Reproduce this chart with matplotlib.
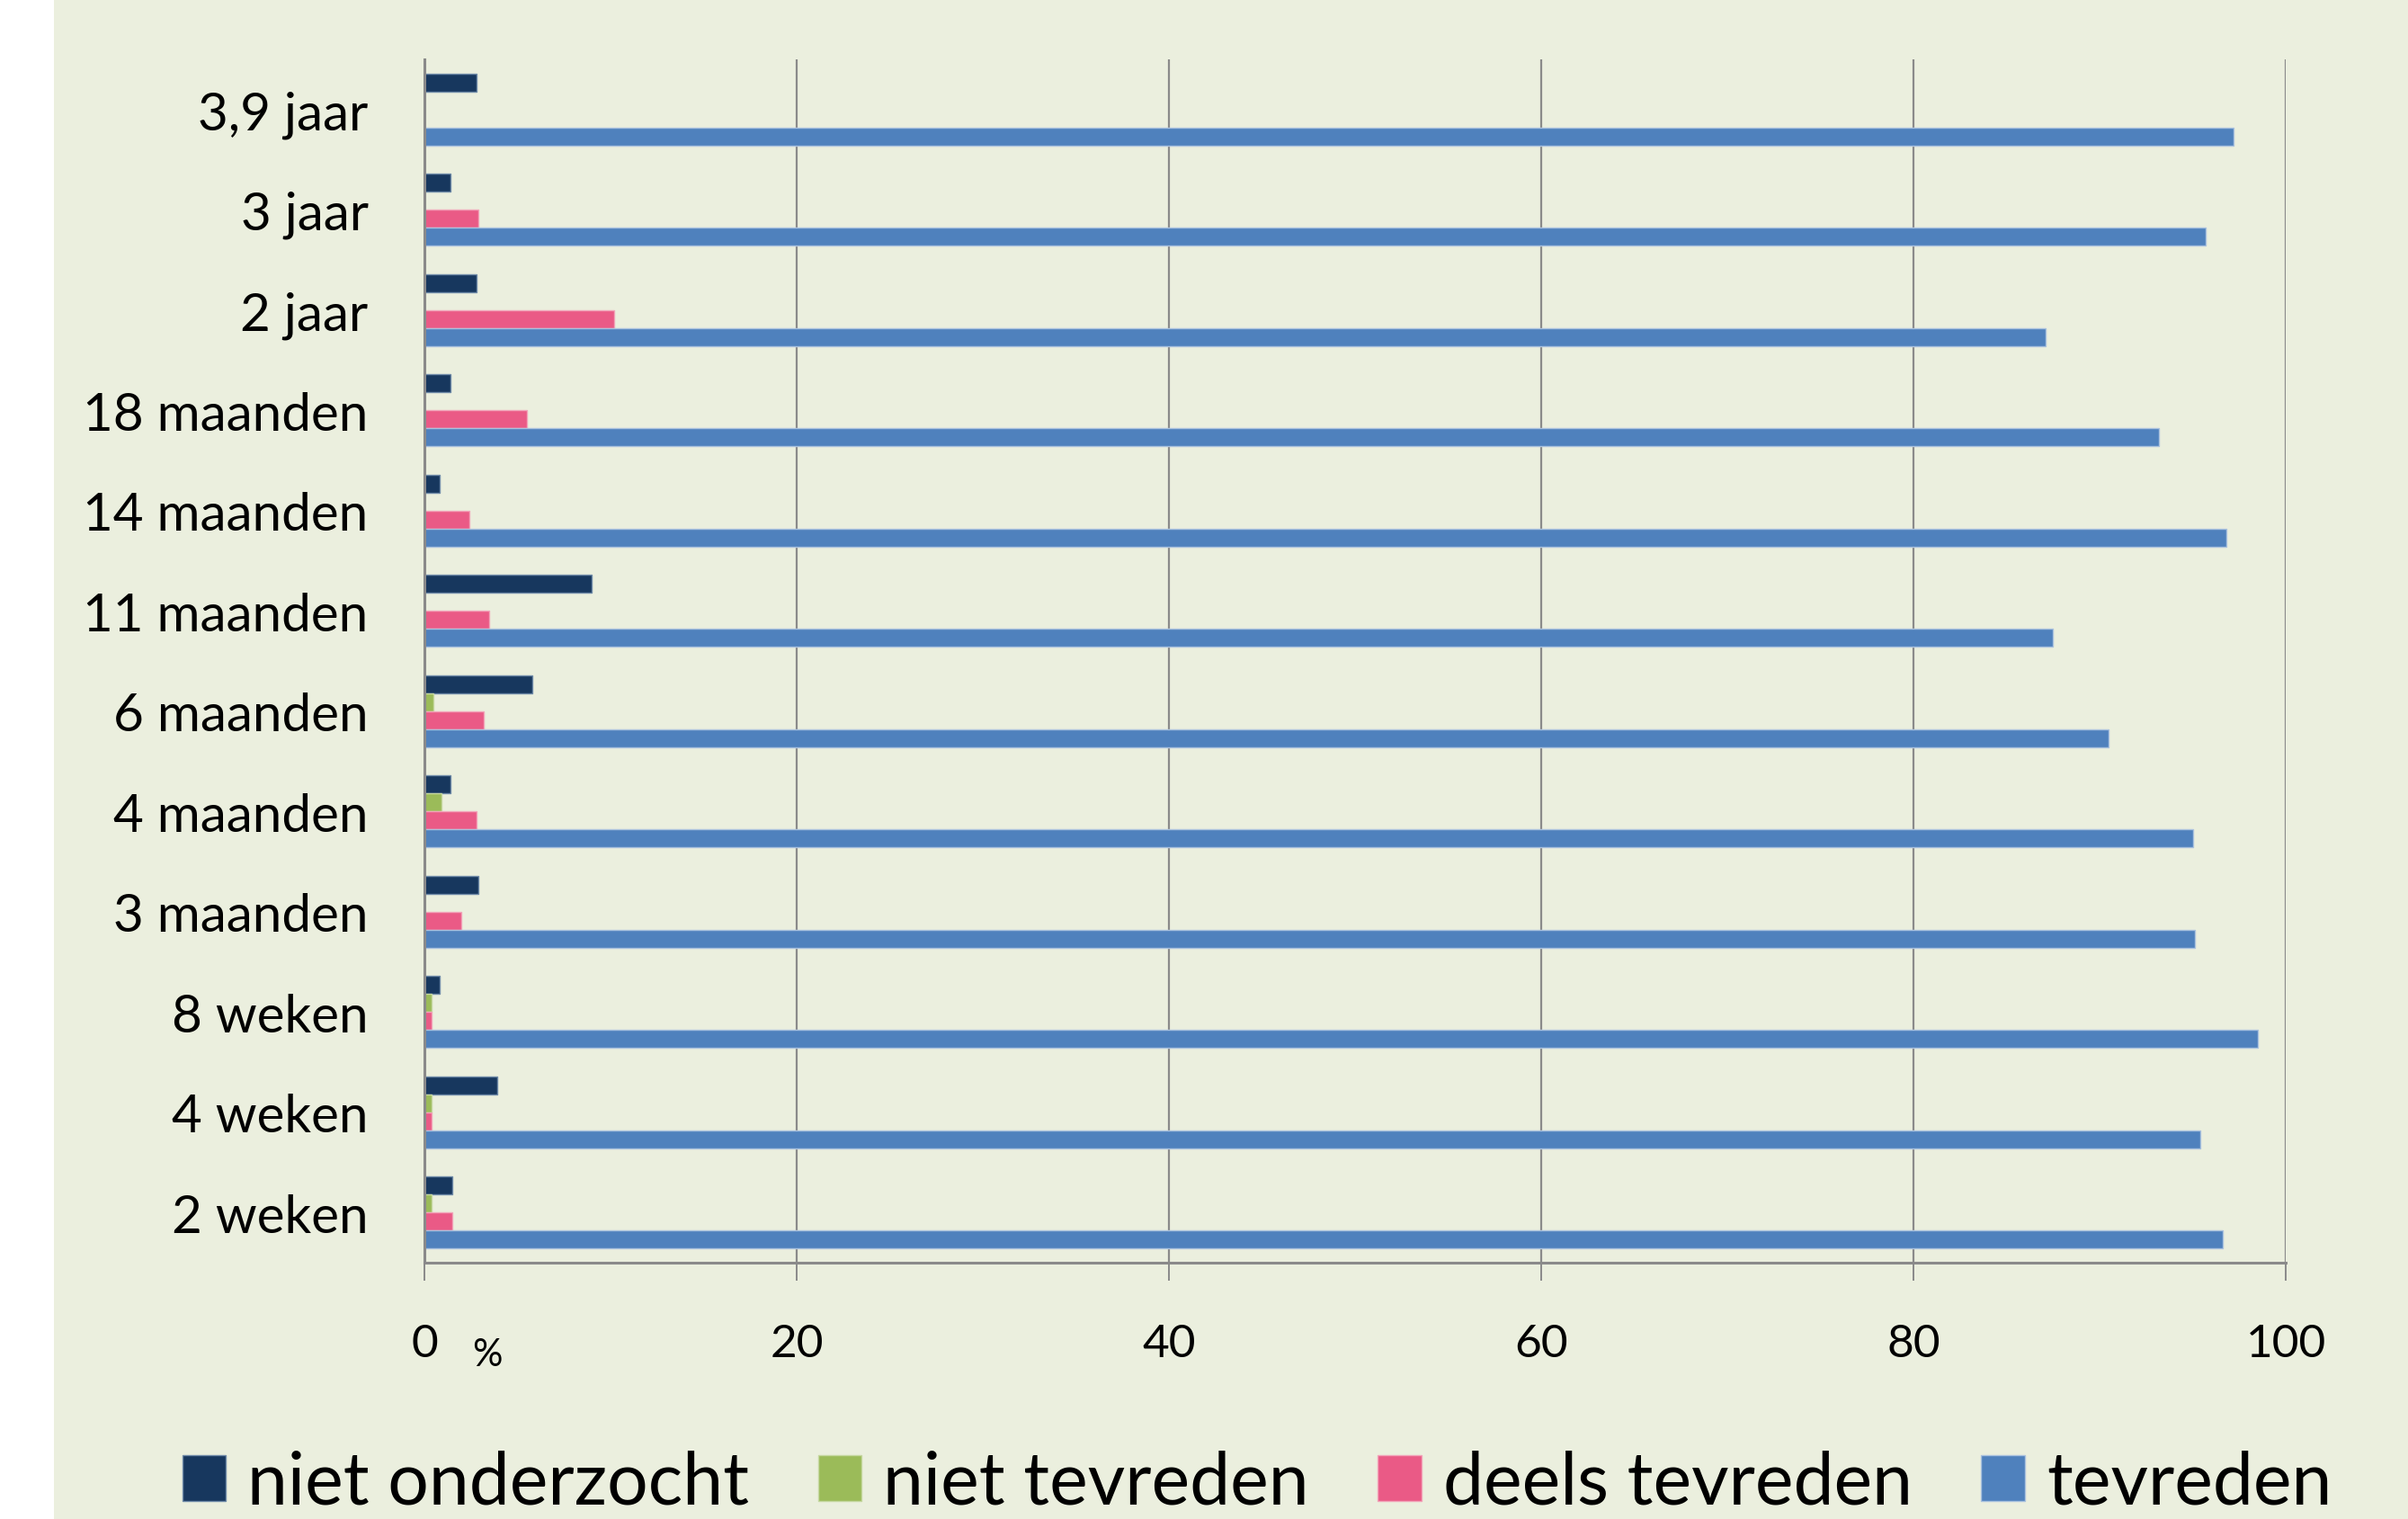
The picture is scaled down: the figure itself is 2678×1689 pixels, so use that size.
import matplotlib
matplotlib.use("Agg")
import matplotlib.pyplot as plt
import numpy as np
from matplotlib.patches import Rectangle

plt.rcParams['font.family'] = ['Lato', 'DejaVu Sans']

categories = ['2 weken', '4 weken', '8 weken', '3 maanden', '4 maanden', '6 maanden',
              '11 maanden', '14 maanden', '18 maanden', '2 jaar', '3 jaar', '3,9 jaar']
niet_onderzocht = [1.5, 3.9, 0.8, 2.9, 1.4, 5.8, 9.0, 0.8, 1.4, 2.8, 1.4, 2.8]
niet_tevreden = [0.4, 0.4, 0.4, 0.0, 0.9, 0.5, 0.0, 0.0, 0.0, 0.0, 0.0, 0.0]
deels_tevreden = [1.5, 0.4, 0.4, 2.0, 2.8, 3.2, 3.5, 2.4, 5.5, 10.2, 2.9, 0.0]
tevreden = [96.6, 95.4, 98.5, 95.1, 95.0, 90.5, 87.5, 96.8, 93.2, 87.1, 95.7, 97.2]
series_names = ['niet onderzocht', 'niet tevreden', 'deels tevreden', 'tevreden']
x_ticks = [0, 20, 40, 60, 80, 100]

colors = ['#17375E', '#9BBB59', '#EA5A86', '#4F81BD']
edges = ['#6F8AA8', '#C5D7A0', '#F2A3B9', '#A9C1DE']
bg = '#EBEFDE'

W, H = 2678, 1690
fig = plt.figure(figsize=(W / 100, H / 100), dpi=100, facecolor='white')
fig.patches.append(Rectangle((60 / W, 0), 1 - 60 / W, 1, transform=fig.transFigure,
                             facecolor=bg, edgecolor='none', zorder=-10))

ax = fig.add_axes([472 / W, 1 - 1405 / H, (2542 - 472) / W, (1405 - 67) / H])
ax.set_facecolor(bg)

y = np.arange(len(categories))
h = 0.179
data = [niet_onderzocht, niet_tevreden, deels_tevreden, tevreden]
offsets = [1.5 * h, 0.5 * h, -0.5 * h, -1.5 * h]
handles = []
for vals, off, c, e, name in zip(data, offsets, colors, edges, series_names):
    b = ax.barh(y + off, vals, height=h, color=c, edgecolor=e, linewidth=1.0,
                label=name, zorder=3)
    handles.append(b)

ax.set_xlim(0, 100)
ax.set_ylim(-0.5, len(categories) - 0.5)
ax.set_xticks(x_ticks)
ax.set_xticklabels([str(t) for t in x_ticks])
ax.set_yticks(y)
ax.set_yticklabels(categories)

ax.grid(axis='x', color='#8A8A8A', linewidth=1.6, zorder=1)
ax.grid(axis='y', visible=False)
for s in ['top', 'right']:
    ax.spines[s].set_visible(False)
ax.spines['left'].set_color('#8A8A8A')
ax.spines['left'].set_linewidth(2.2)
ax.spines['left'].set_zorder(4)
ax.spines['bottom'].set_color('#8A8A8A')
ax.spines['bottom'].set_linewidth(2.2)
ax.tick_params(axis='x', length=14.5, width=1.4, color='#8A8A8A', pad=34,
               labelsize=37, labelcolor='black', direction='out')
ax.tick_params(axis='y', length=0, pad=45, labelsize=42, labelcolor='black')

fig.text(542 / W, 1 - 1507 / H, '%', fontsize=30, ha='center', va='center')

fig.legend(handles=handles, labels=series_names, loc='center',
           bbox_to_anchor=(0.522, 1 - 1650 / H), ncol=4, frameon=False,
           fontsize=58, handlelength=0.6, handleheight=0.6, handletextpad=0.3,
           columnspacing=0.95, borderaxespad=0, borderpad=0)

fig.savefig('out.png', dpi=100, facecolor=fig.get_facecolor())
